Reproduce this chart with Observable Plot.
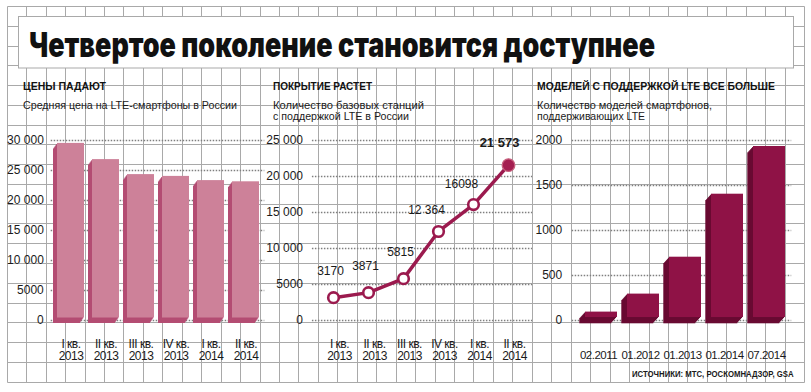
<!DOCTYPE html>
<html><head><meta charset="utf-8">
<script src="https://cdn.jsdelivr.net/npm/d3@7"></script>
<script src="https://cdn.jsdelivr.net/npm/@observablehq/plot@0.6"></script>
<style>
html,body{margin:0;padding:0;background:#fff;}
#root{position:relative;width:811px;height:392px;overflow:hidden;background:#fff;}
.txt{position:absolute;white-space:nowrap;line-height:1;transform-origin:0 0;color:#1a1a1a;}
.plot{position:absolute;}
</style></head><body><div id="root"></div>
<script>
// ---------- DATA ----------
const quarters = ["I кв. 2013", "II кв. 2013", "III кв. 2013", "IV кв. 2013", "I кв. 2014", "II кв. 2014"];
const avgPrice = [29100, 26400, 23900, 23600, 22900, 22700];
const priceTicks = [0, 5000, 10000, 15000, 20000, 25000, 30000];

const stations = [3170, 3871, 5815, 12364, 16098, 21573];
const stationLabels = ["3170", "3871", "5815", "12 364", "16098", "21 573"];
const stationTicks = [0, 5000, 10000, 15000, 20000, 25000];

const modelDates = ["02.2011", "01.2012", "01.2013", "01.2014", "07.2014"];
const lteModels = [60, 260, 670, 1370, 1900];
const modelTicks = [0, 500, 1000, 1500, 2000];

const titleText = "Четвертое поколение становится доступнее";
const panelHeads = ["ЦЕНЫ ПАДАЮТ", "ПОКРЫТИЕ РАСТЕТ", "МОДЕЛЕЙ С ПОДДЕРЖКОЙ LTE ВСЕ БОЛЬШЕ"];
const panelSubs = [["Средняя цена на LTE-смартфоны в России"],
                   ["Количество базовых станций", "с поддержкой LTE в России"],
                   ["Количество моделей смартфонов,", "поддерживающих LTE"]];
const sourceText = "ИСТОЧНИКИ: МТС, РОСКОМНАДЗОР, GSA";

// ---------- HELPERS ----------
const root = document.getElementById("root");
const FONT = "'Liberation Sans', Arial, sans-serif";
const GRID = "#a9a9a9";

// background paper grid + title box
(function drawGrid() {
  const svg = d3.create("svg").attr("width", 811).attr("height", 392)
    .style("position", "absolute").style("left", 0).style("top", 0);
  const gx0 = 6.7, gdx = 19.45, nx = 41, gy0 = 6, gdy = 19.77, ny = 19;
  const c = v => Math.round(v) + 0.5;
  const x1 = c(gx0), x2 = c(gx0 + gdx * nx), y1 = c(gy0), y2 = c(gy0 + gdy * ny);
  const g = svg.append("g").attr("stroke", GRID).attr("stroke-width", 1);
  for (let k = 0; k <= nx; k++) g.append("line").attr("x1", c(gx0 + gdx * k)).attr("x2", c(gx0 + gdx * k)).attr("y1", y1).attr("y2", y2);
  for (let k = 0; k <= ny; k++) g.append("line").attr("y1", c(gy0 + gdy * k)).attr("y2", c(gy0 + gdy * k)).attr("x1", x1).attr("x2", x2);
  svg.append("rect").attr("x", 18.5).attr("y", 16.5).attr("width", 775).attr("height", 51.5)
    .attr("fill", "#fff").attr("stroke", GRID);
  root.append(svg.node());
})();

function place(text, {x, baseline, width, family = FONT, weight = 400, size = 12, color = "#1a1a1a"}) {
  const div = document.createElement("div");
  div.className = "txt";
  div.style.left = x + "px";
  div.style.top = "0px";
  div.style.fontFamily = family;
  div.style.fontWeight = weight;
  div.style.fontSize = size + "px";
  div.style.color = color;
  const span = document.createElement("span");
  span.textContent = text;
  const marker = document.createElement("span");
  marker.style.cssText = "display:inline-block;width:0;height:0;vertical-align:baseline;";
  div.append(span, marker);
  root.append(div);
  const base = marker.offsetTop;
  div.style.top = (baseline - base) + "px";
  const w = span.getBoundingClientRect().width;
  if (width && w > 0) div.style.transform = `scaleX(${width / w})`;
  return div;
}

const yFmt = d => d >= 10000 ? String(d).replace(/\B(?=(\d{3})+(?!\d))/g, " ") : String(d);
const qFmt = q => q.replace(" 20", "\n20");
const baseStyle = {background: "transparent", fontFamily: FONT, fontSize: "12px", color: "#1a1a1a", overflow: "visible"};
const gridRule = (ticks, opts = {}) => Plot.ruleY(ticks, {stroke: "#7f7f7f", strokeWidth: 1.5, strokeDasharray: "1.5,1.5", ...opts});

function bars3d(data, {light, dark, lift, steps, sx, sy}) {
  const marks = [];
  for (let k = steps; k >= 1; k--) {
    marks.push(Plot.barY(data, {x: "k", y: "v", fill: dark, dx: -sx * k, dy: -lift + sy * k}));
  }
  marks.push(Plot.barY(data, {x: "k", y: "v", fill: light, dy: -lift}));
  return marks;
}

function mount(plot, left, top, xLetterSpacing) {
  plot.classList.add("plot");
  plot.style.left = left + "px";
  plot.style.top = top + "px";
  if (xLetterSpacing != null) {
    plot.querySelectorAll('g[aria-label="x-axis tick label"] text').forEach(t => t.style.letterSpacing = xLetterSpacing);
  }
  root.append(plot);
}

// ---------- PANEL 1: prices ----------
const priceData = quarters.map((k, i) => ({k, v: avgPrice[i]}));
mount(Plot.plot({
  width: 275, height: 240,
  marginLeft: 50.7, marginRight: 10.7, marginTop: 10, marginBottom: 50,
  style: baseStyle,
  x: {type: "band", domain: quarters, paddingInner: 0.24, paddingOuter: 0.12},
  y: {domain: [0, 30000]},
  marks: [
    gridRule(priceTicks),
    ...bars3d(priceData, {light: "#cd8199", dark: "#b44d73", lift: 2.5, steps: 5, sx: 0.8, sy: 1.1}),
    Plot.axisY(priceTicks, {tickSize: 0, tickPadding: 7.4, tickFormat: yFmt, label: null}),
    Plot.axisX({tickSize: 0, tickPadding: 18.5, tickFormat: qFmt, fontSize: 12, lineHeight: 1.04, label: null})
  ]
}), 0, 130, "-0.5px");

// ---------- PANEL 2: base stations ----------
const stData = quarters.map((k, i) => ({k, v: stations[i], label: stationLabels[i], last: i === quarters.length - 1}));
const LINE = "#9b1a4e";
mount(Plot.plot({
  width: 275, height: 240,
  marginLeft: 51.9, marginRight: 9, marginTop: 10, marginBottom: 50,
  style: baseStyle,
  x: {type: "point", domain: quarters, padding: 0.5},
  y: {domain: [0, 25000]},
  marks: [
    gridRule(stationTicks, {insetLeft: -2, insetRight: -4}),
    Plot.line(stData, {x: "k", y: "v", stroke: LINE, strokeWidth: 3.5}),
    Plot.dot(stData.filter(d => !d.last), {x: "k", y: "v", r: 5.3, fill: "#fff", stroke: LINE, strokeWidth: 2.6}),
    Plot.dot(stData.filter(d => d.last), {x: "k", y: "v", r: 6.3, fill: "#a41f51", stroke: "#c8627f", strokeWidth: 1.3}),
    Plot.text(stData.filter(d => d.v < 10000), {x: "k", y: "v", text: "label", dx: -3, dy: -23, lineAnchor: "bottom", fontSize: 12, fill: "#1a1a1a"}),
    Plot.text(stData.filter(d => d.v >= 10000 && !d.last), {x: "k", y: "v", text: "label", dx: -12, dy: -17, lineAnchor: "bottom", fontSize: 12, fill: "#1a1a1a"}),
    Plot.text(stData.filter(d => d.last), {x: "k", y: "v", text: "label", dx: -9, dy: -18, lineAnchor: "bottom", fontSize: 13, fontWeight: "bold", fill: "#1a1a1a"}),
    Plot.axisY(stationTicks, {tickSize: 0, tickPadding: 11.4, tickFormat: yFmt, label: null}),
    Plot.axisX({tickSize: 0, tickPadding: 18.5, tickFormat: qFmt, dx: 6, fontSize: 12, lineHeight: 1.04, label: null})
  ]
}), 262, 130, "-0.5px");

// ---------- PANEL 3: LTE models ----------
const mData = modelDates.map((k, i) => ({k, v: lteModels[i]}));
mount(Plot.plot({
  width: 286, height: 240,
  marginLeft: 53.2, marginRight: 19.8, marginTop: 10, marginBottom: 50,
  style: baseStyle,
  x: {type: "band", domain: modelDates, paddingInner: 0.25, paddingOuter: 0.125},
  y: {domain: [0, 2000]},
  marks: [
    gridRule(modelTicks, {insetLeft: -6.5}),
    ...bars3d(mData, {light: "#8f1246", dark: "#690a32", lift: 3, steps: 6, sx: 0.95, sy: 1.05}),
    Plot.axisY(modelTicks, {tickSize: 0, tickPadding: 16.5, tickFormat: d => String(d), label: null}),
    Plot.axisX({tickSize: 0, tickPadding: 30.1, dx: -3, fontSize: 11.5, label: null})
  ]
}), 525, 130, "-0.5px");

// ---------- TEXTS ----------
place(titleText, {x: 29, baseline: 56.5, width: 626, family: "Inter, Lato, Roboto, sans-serif", weight: 900, size: 34, color: "#111"});
const headX = [22.5, 272.7, 537];
const headW = [83, 99, 238];
const subW = [[214], [151, 136], [175, 108]];
panelHeads.forEach((h, i) => place(h, {x: headX[i], baseline: 89.5, width: headW[i], weight: 700, size: 10.5, color: "#111"}));
panelSubs.forEach((lines, i) => lines.forEach((s, j) => place(s, {x: headX[i], baseline: 108.5 + 11 * j, width: subW[i][j], size: 11.5})));
place(sourceText, {x: 631.7, baseline: 377, width: 161.6, weight: 700, size: 9});
</script></body></html>
